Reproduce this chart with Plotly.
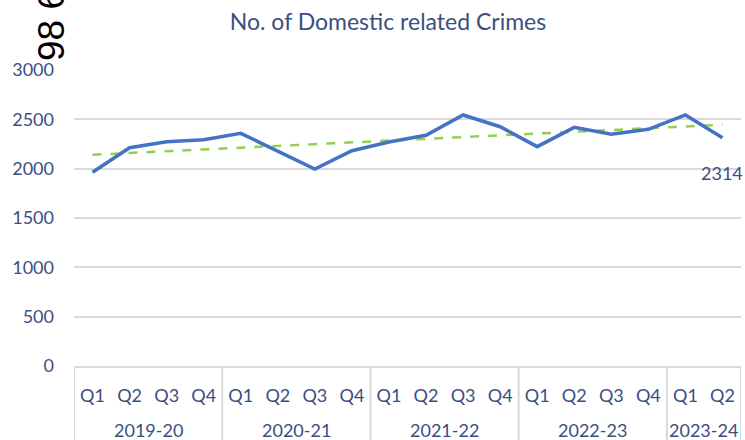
import numpy as np
import plotly.graph_objects as go

year_labels = ["2019-20", "2020-21", "2021-22", "2022-23", "2023-24"]
year_counts = [4, 4, 4, 4, 2]
quarters = ["Q1", "Q2", "Q3", "Q4"] * 4 + ["Q1", "Q2"]
crimes = [1963, 2212, 2273, 2294, 2358, 2177, 1997, 2182, 2270, 2338,
          2544, 2425, 2223, 2419, 2348, 2399, 2544, 2314]
title_text = "No. of Domestic related Crimes"
corner_text = "98 6"

idx = np.arange(len(crimes))
slope, intercept = np.polyfit(idx, crimes, 1)
trend = slope * idx + intercept

TXT = "#3B4E82"
GRID = "#D9D9D9"
FONT = "Lato"
PLOT_H = 440 - 70 - 74

fig = go.Figure()
fig.add_trace(go.Scatter(
    x=idx, y=trend, mode="lines",
    line=dict(color="#92D050", width=2.5, dash="dash"),
    hoverinfo="skip", showlegend=False))
fig.add_trace(go.Scatter(
    x=idx, y=crimes, mode="lines",
    line=dict(color="#4472C4", width=3.5),
    showlegend=False))

fig.add_annotation(x=idx[-1], y=crimes[-1], xref="x", yref="y",
                   text=str(crimes[-1]), showarrow=False, yshift=-35,
                   font=dict(family=FONT, size=18, color=TXT))

# group (fiscal year) labels and divider lines
bounds = np.concatenate([[0], np.cumsum(year_counts)]) - 0.5
for i, lab in enumerate(year_labels):
    fig.add_annotation(x=(bounds[i] + bounds[i + 1]) / 2, y=-(430 - 366) / PLOT_H,
                       xref="x", yref="paper", text=lab, showarrow=False,
                       yanchor="middle", font=dict(family=FONT, size=18, color=TXT))
for b in bounds:
    fig.add_shape(type="line", x0=b, x1=b, y0=0, y1=-0.4, xref="x", yref="paper",
                  line=dict(color=GRID, width=2), layer="below")

fig.add_annotation(x=-22 / 667, y=1 + (70 - 63) / PLOT_H, xref="paper", yref="paper",
                   yanchor="bottom", xanchor="center", text=corner_text, textangle=-90,
                   showarrow=False,
                   font=dict(family="Liberation Sans", size=37, color="black"))

fig.update_layout(
    width=745, height=440,
    margin=dict(l=74, r=4, t=70, b=74),
    paper_bgcolor="white", plot_bgcolor="white",
    title=dict(text=title_text, xref="container", x=388 / 745, xanchor="center",
               yref="container", y=1 - 22 / 440, yanchor="middle",
               font=dict(family=FONT, size=23, color=TXT)),
    font=dict(family=FONT, size=18, color=TXT),
)
fig.update_yaxes(range=[0, 3000], dtick=500, showgrid=True, gridcolor=GRID,
                 gridwidth=1.5, zeroline=False, showline=False,
                 ticklabelstandoff=19, tickfont=dict(size=18, color=TXT))
fig.update_xaxes(range=[-0.5, len(crimes) - 0.5], tickvals=idx, ticktext=quarters,
                 showgrid=False, showline=True, linecolor=GRID, linewidth=2,
                 zeroline=False, ticklabelstandoff=12,
                 tickfont=dict(size=18, color=TXT))

fig.write_html("out.html")
